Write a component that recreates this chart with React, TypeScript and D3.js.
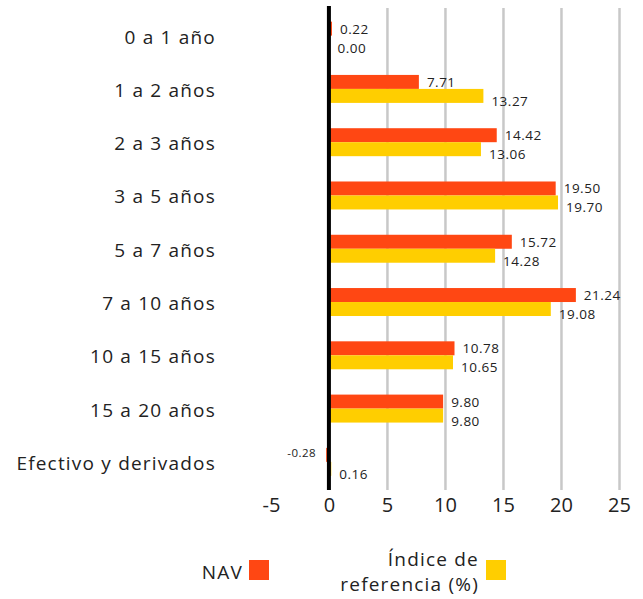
import React from "react";
import * as d3 from "d3";

const categories = [
  "0 a 1 año",
  "1 a 2 años",
  "2 a 3 años",
  "3 a 5 años",
  "5 a 7 años",
  "7 a 10 años",
  "10 a 15 años",
  "15 a 20 años",
  "Efectivo y derivados",
];
const navValues = [0.22, 7.71, 14.42, 19.5, 15.72, 21.24, 10.78, 9.8, -0.28];
const indexValues = [0.0, 13.27, 13.06, 19.7, 14.28, 19.08, 10.65, 9.8, 0.16];
const xTicks = [-5, 0, 5, 10, 15, 20, 25];
const seriesNames = ["NAV", "Índice de referencia (%)"];
const colors = ["#FF4713", "#FFCE00"];

const FONT = "'Open Sans', 'Noto Sans', sans-serif";

export default function App() {
  const W = 643;
  const H = 599;
  const x = d3.scaleLinear().domain([-5, 25]).range([271.4, 619.5]);
  const y = d3
    .scaleBand<string>()
    .domain(categories)
    .range([9, 488.5])
    .paddingInner(0.475)
    .paddingOuter(0.2375);
  const sub = d3.scaleBand<number>().domain([0, 1]).range([0, y.bandwidth()]);
  const series = [navValues, indexValues];
  const plotTop = 8;
  const plotBottom = 490;

  return (
    <svg
      width={W}
      height={H}
      style={{ position: "absolute", left: 0, top: 0, background: "#fff" }}
      fontFamily={FONT}
    >
      {/* gridlines */}
      {xTicks
        .filter((t) => t > 0)
        .map((t) => (
          <line
            key={"g" + t}
            x1={x(t)}
            x2={x(t)}
            y1={plotTop}
            y2={plotBottom}
            stroke="#c8c8c8"
            strokeWidth={2.5}
          />
        ))}
      {/* bars */}
      {series.map((vals, si) =>
        vals.map((v, i) => {
          const y0 = (y(categories[i]) ?? 0) + (sub(si) ?? 0);
          const h = sub.bandwidth();
          const x0 = Math.min(x(0), x(v));
          const w = Math.abs(x(v) - x(0));
          return (
            <rect
              key={`b${si}-${i}`}
              x={x0}
              y={y0}
              width={w}
              height={h}
              fill={colors[si]}
            />
          );
        })
      )}
      {/* zero axis */}
      <line
        x1={x(0) - 0.5}
        x2={x(0) - 0.5}
        y1={6}
        y2={plotBottom}
        stroke="#000"
        strokeWidth={4}
      />
      {/* value labels */}
      {series.map((vals, si) =>
        vals.map((v, i) => {
          const yc = (y(categories[i]) ?? 0) + (sub(si) ?? 0) + sub.bandwidth() / 2;
          const neg = v < 0;
          return (
            <text
              key={`l${si}-${i}`}
              x={neg ? x(v) - 10 : x(Math.max(v, 0)) + 8}
              y={yc + (si === 1 ? 5 : 0) + (neg ? -2 : 0)}
              dominantBaseline="central"
              textAnchor={neg ? "end" : "start"}
              fontSize={neg ? 11.5 : 13.5}
              letterSpacing={0.5}
              fill="#222"
            >
              {v.toFixed(2)}
            </text>
          );
        })
      )}
      {/* category labels */}
      {categories.map((c) => (
        <text
          key={c}
          x={216}
          y={(y(c) ?? 0) + y.bandwidth() / 2 + 1}
          textAnchor="end"
          dominantBaseline="central"
          fontSize={19}
          letterSpacing={1.2}
          fill="#222"
        >
          {c}
        </text>
      ))}
      {/* x tick labels */}
      {xTicks.map((t) => (
        <text
          key={"t" + t}
          x={x(t)}
          y={504}
          textAnchor="middle"
          dominantBaseline="central"
          fontSize={20}
          fill="#222"
        >
          {t}
        </text>
      ))}
      {/* legend */}
      <text x={243} y={572} textAnchor="end" dominantBaseline="central" fontSize={19} letterSpacing={1.2} fill="#222">
        {seriesNames[0]}
      </text>
      <rect x={249} y={560} width={20} height={20} fill={colors[0]} />
      <text x={479} y={559} textAnchor="end" dominantBaseline="central" fontSize={19} letterSpacing={1.2} fill="#222">
        Índice de
      </text>
      <text x={479} y={584} textAnchor="end" dominantBaseline="central" fontSize={19} letterSpacing={1.2} fill="#222">
        referencia (%)
      </text>
      <rect x={486} y={560} width={20} height={20} fill={colors[1]} />
    </svg>
  );
}
